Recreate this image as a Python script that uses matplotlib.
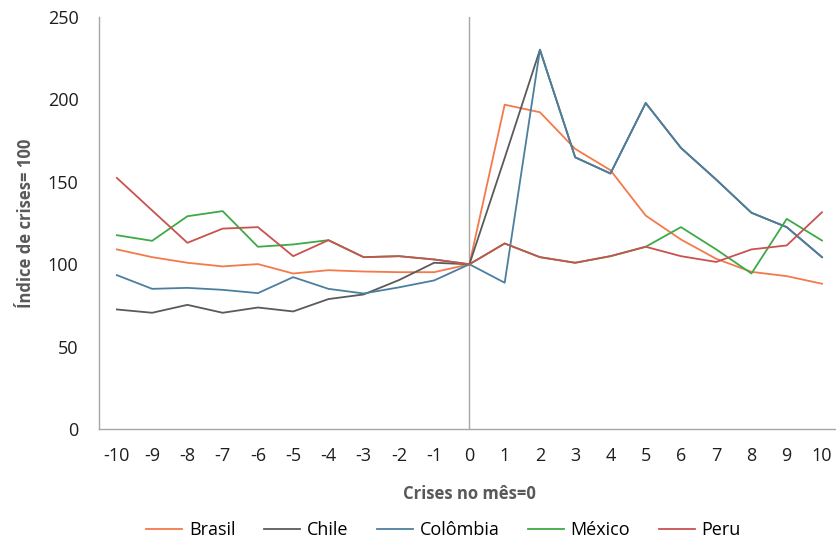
import matplotlib
matplotlib.use('Agg')
import matplotlib.pyplot as plt

# months relative to the crisis month
meses = list(range(-10, 11))

brasil = [109, 104.3, 100.9, 98.7, 100.1, 94.4, 96.4, 95.6, 95.2, 95.2, 100,
          196.7, 192.1, 169.9, 157, 129.5, 115, 103.3, 95.4, 92.8, 88.2]
chile = [72.6, 70.6, 75.4, 70.6, 73.8, 71.4, 78.9, 81.7, 90.4, 100.9, 100,
         164.4, 230, 164.8, 155, 197.7, 170.5, 151.3, 131.2, 122.5, 104.3]
colombia = [93.4, 85.1, 85.7, 84.5, 82.5, 92.2, 85.1, 82.3, 86, 90.2, 100,
            88.8, 230, 164.8, 155, 197.7, 170.5, 151.3, 131.2, 122.5, 104.3]
mexico = [117.6, 114.2, 129.1, 132.2, 110.6, 112, 114.6, 104.3, 104.9, 102.9, 100,
          112.6, 104.3, 100.9, 104.9, 110.6, 122.5, 109, 94.4, 127.5, 114.4]
peru = [152.3, 132.6, 113, 121.6, 122.5, 104.9, 114.6, 104.3, 104.9, 102.9, 100,
        112.6, 104.3, 100.9, 104.9, 110.6, 104.9, 101.4, 109, 111.4, 131.5]

series = [
    ("Brasil", brasil, "#F4794B"),
    ("Chile", chile, "#5A5A5A"),
    ("Colômbia", colombia, "#4C7F9F"),
    ("México", mexico, "#3DAA47"),
    ("Peru", peru, "#C8524F"),
]

plt.rcParams['font.family'] = ['Open Sans', 'DejaVu Sans']

fig = plt.figure(figsize=(8.37, 5.41), dpi=100)
ax = fig.add_axes([0.1186, 0.2065, 0.8845, 0.7626])

for nome, valores, cor in series:
    ax.plot(meses, valores, color=cor, lw=1.3, label=nome)

ax.axvline(0, color="#a6a6a6", lw=1.0, zorder=0)

ax.set_xlim(-10.5, 10.5)
ax.set_ylim(0, 250)
ax.set_xticks(meses)
ax.set_xticklabels([str(m) for m in meses])
ax.set_yticks([0, 50, 100, 150, 200, 250])
ax.tick_params(axis='both', length=0, labelsize=13, colors="#1e1e1e")
ax.tick_params(axis='x', pad=13)
ax.tick_params(axis='y', pad=15)

for lado in ["top", "right"]:
    ax.spines[lado].set_visible(False)
for lado in ["left", "bottom"]:
    ax.spines[lado].set_color("#a6a6a6")
    ax.spines[lado].set_linewidth(1.0)

ax.set_xlabel("Crises no mês=0", fontsize=12, fontweight="bold", color="#595959", labelpad=14)
ax.set_ylabel("Índice de crises= 100", fontsize=12, fontweight="bold", color="#595959", labelpad=9)

fig.legend(loc="center", bbox_to_anchor=(0.53, 0.02), ncol=5, frameon=False,
           fontsize=13, handlelength=2.0, handletextpad=0.35, columnspacing=1.6)

fig.savefig("out.png", dpi=100)
